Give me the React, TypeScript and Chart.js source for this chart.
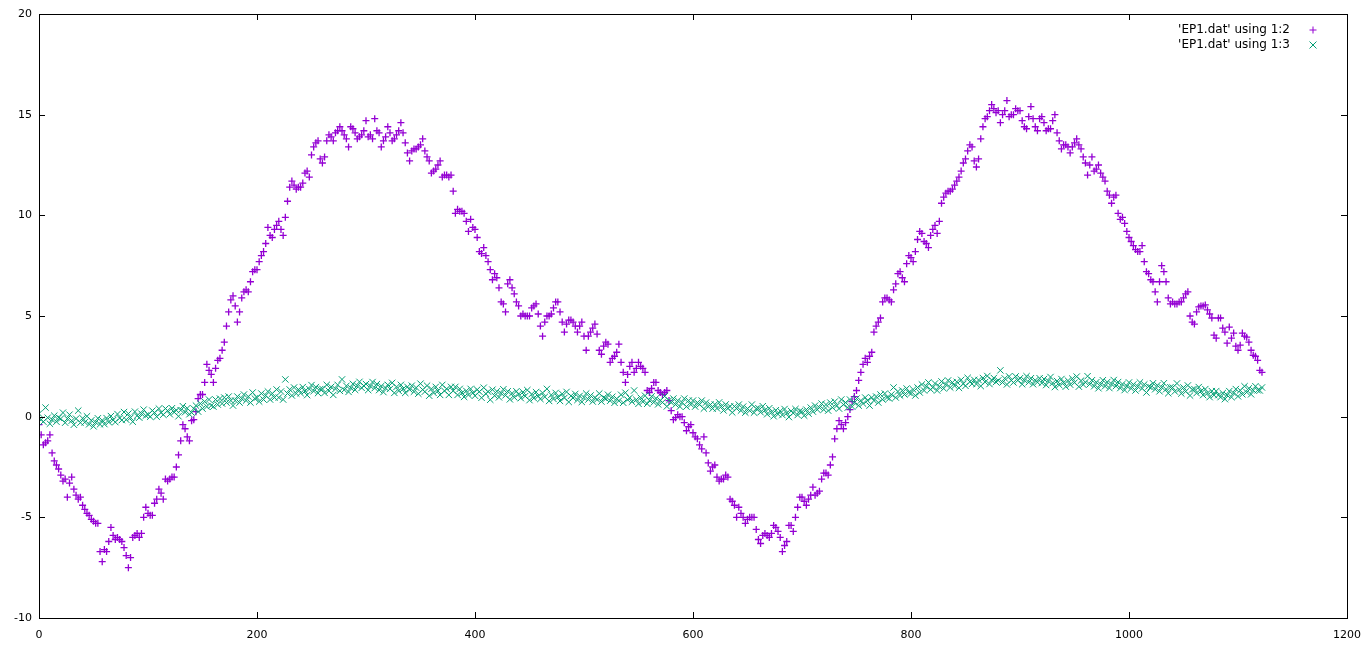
import { useEffect, useRef } from "react";
import { Chart, registerables, Plugin } from "chart.js";

Chart.register(...registerables);

// samples are taken every 2 units of x, starting at 0
const X_STEP = 2;
const X_TICKS = [0, 200, 400, 600, 800, 1000, 1200];
const Y_TICKS = [-10, -5, 0, 5, 10, 15, 20];
const LABEL_COL2 = "'EP1.dat' using 1:2";
const LABEL_COL3 = "'EP1.dat' using 1:3";

// column 2 of EP1.dat
const COL2 = [
  -0.4, -0.9, -1.4, -1.3, -1.2, -0.9, -1.8, -2.2, -2.4, -2.6,
  -2.9, -3.2, -3.1, -4.0, -3.3, -3.0, -3.6, -3.9, -4.1, -4.0,
  -4.4, -4.6, -4.8, -4.9, -5.1, -5.2, -5.3, -5.3, -6.7, -7.2,
  -6.6, -6.7, -6.2, -5.5, -5.9, -6.1, -6.0, -6.1, -6.2, -6.5,
  -6.9, -7.5, -7.0, -6.0, -5.9, -5.8, -6.0, -5.8, -5.0, -4.5,
  -4.8, -4.9, -4.9, -4.3, -4.1, -3.6, -3.8, -4.1, -3.1, -3.2,
  -3.1, -3.0, -3.0, -2.5, -1.9, -1.2, -0.4, -0.6, -1.0, -1.2,
  -0.2, -0.15, 0.25, 0.9, 1.1, 1.1, 1.7, 2.6, 2.3, 2.1,
  1.7, 2.4, 2.8, 2.9, 3.3, 3.7, 4.5, 5.2, 5.8, 6.0,
  5.5, 4.7, 5.2, 5.9, 6.2, 6.3, 6.2, 6.7, 7.2, 7.3,
  7.3, 7.7, 8.0, 8.2, 8.6, 9.4, 9.0, 8.9, 9.3, 9.5,
  9.7, 9.3, 9.0, 9.9, 10.7, 11.4, 11.7, 11.5, 11.3, 11.4,
  11.4, 11.6, 12.1, 12.2, 11.9, 13.0, 13.4, 13.6, 13.7, 12.8,
  12.6, 12.9, 13.7, 14.0, 13.9, 13.7, 14.1, 14.2, 14.4, 14.2,
  14.0, 13.8, 13.4, 14.4, 14.3, 14.1, 13.8, 13.9, 14.0, 14.2,
  14.7, 13.9, 14.0, 13.8, 14.8, 14.2, 14.1, 13.4, 13.7, 13.9,
  14.4, 14.1, 13.7, 13.8, 14.0, 14.2, 14.6, 14.1, 13.6, 13.1,
  12.7, 13.2, 13.3, 13.3, 13.4, 13.5, 13.8, 13.2, 12.9, 12.7,
  12.1, 12.2, 12.3, 12.5, 12.7, 11.9, 12.0, 12.0, 11.9, 12.0,
  11.2, 10.1, 10.3, 10.2, 10.2, 10.1, 9.7, 9.2, 9.8, 9.4,
  9.3, 8.9, 8.2, 8.1, 8.4, 8.0, 7.7, 7.3, 6.8, 7.1,
  6.9, 6.4, 5.7, 5.6, 5.2, 6.6, 6.8, 6.4, 6.1, 5.7,
  5.5, 5.0, 5.1, 5.0, 5.0, 5.0, 5.4, 5.5, 5.6, 5.1,
  4.5, 4.0, 4.7, 5.0, 5.0, 5.1, 5.4, 5.7, 5.7, 5.2,
  4.7, 4.2, 4.6, 4.8, 4.8, 4.7, 4.5, 4.2, 4.5, 4.7,
  4.0, 3.3, 4.0, 4.2, 4.4, 4.6, 4.1, 3.3, 3.1, 3.5,
  3.7, 3.6, 2.7, 2.9, 3.0, 3.2, 3.6, 2.7, 2.2, 1.7,
  2.1, 2.5, 2.7, 2.2, 2.4, 2.7, 2.5, 2.4, 2.2, 1.3,
  1.2, 1.4, 1.7, 1.7, 1.3, 1.2, 1.1, 1.2, 1.3, 0.8,
  0.3, -0.15, -0.05, 0.1, 0.0, 0.0, -0.3, -0.7, -0.5, -0.4,
  -0.8, -1.0, -1.1, -1.4, -1.6, -1.0, -1.8, -2.3, -2.7, -2.5,
  -2.4, -3.0, -3.2, -3.1, -3.1, -2.9, -3.0, -4.1, -4.2, -4.4,
  -5.0, -4.5, -4.8, -5.0, -5.3, -5.1, -5.0, -5.0, -5.0, -5.6,
  -6.1, -6.3, -5.9, -5.8, -5.9, -6.0, -5.8, -5.4, -5.5, -5.7,
  -6.0, -6.7, -6.4, -6.2, -5.4, -5.4, -5.7, -5.0, -4.5, -4.0,
  -4.0, -4.2, -4.4, -4.1, -3.9, -3.5, -3.9, -3.8, -3.7, -3.1,
  -2.8, -2.8, -2.9, -2.4, -2.0, -1.1, -0.6, -0.2, -0.4, -0.6,
  -0.3, 0.0, 0.35, 0.75, 1.0, 1.3, 1.8, 2.2, 2.6, 2.9,
  2.7, 3.0, 3.2, 4.2, 4.5, 4.7, 4.9, 5.7, 5.9, 5.9,
  5.8, 5.7, 6.3, 6.6, 7.1, 7.2, 6.9, 6.7, 7.6, 8.0,
  7.9, 7.7, 8.2, 8.8, 9.2, 9.1, 8.7, 8.6, 8.4, 9.0,
  9.3, 9.5, 9.1, 9.7, 10.6, 10.9, 11.1, 11.2, 11.2, 11.3,
  11.5, 11.7, 11.9, 12.2, 12.6, 12.8, 13.2, 13.5, 13.4, 12.7,
  12.4, 12.8, 13.8, 14.4, 14.8, 14.9, 15.2, 15.5, 15.3, 15.1,
  15.2, 14.6, 15.0, 15.2, 15.7, 14.9, 15.0, 15.0, 15.3, 15.2,
  15.2, 14.7, 14.4, 14.3, 14.9, 15.4, 14.8, 14.4, 14.2, 14.8,
  14.9, 14.6, 14.2, 14.3, 14.3, 14.7, 15.0, 14.1, 13.7, 13.3,
  13.5, 13.5, 13.4, 13.1, 13.4, 13.6, 13.8, 13.5, 13.3, 12.9,
  12.6, 12.0, 12.5, 12.9, 12.2, 12.3, 12.5, 12.1, 11.9, 11.7,
  11.2, 11.0, 10.6, 10.9, 11.0, 10.1, 9.8, 9.9, 9.6, 9.2,
  8.9, 8.7, 8.5, 8.3, 8.2, 8.2, 8.5, 7.7, 7.2, 7.1,
  6.8, 6.7, 6.2, 5.7, 6.7, 7.5, 7.2, 6.7, 5.9, 5.6,
  5.7, 5.6, 5.6, 5.7, 5.7, 5.9, 6.1, 6.2, 5.0, 4.7,
  4.6, 5.2, 5.45, 5.5, 5.5, 5.55, 5.3, 5.1, 4.9, 4.05,
  3.9, 4.9, 4.9, 4.4, 4.2, 3.65, 4.45, 3.9, 4.15, 3.5,
  3.3, 3.55, 4.15, 4.0, 3.95, 3.7, 3.3, 3.05, 3.0, 2.8,
  2.3, 2.2,
];

// column 3 of EP1.dat
const COL3 = [
  0.15, -0.15, -0.25, 0.45, -0.05, -0.35, -0.15, 0.05, -0.25, -0.05,
  -0.1, 0.2, -0.3, -0.1, 0.1, -0.2, -0.4, -0.1, 0.3, -0.3,
  -0.08, -0.28, 0.02, -0.38, -0.18, -0.48, -0.28, -0.08, -0.38, -0.18,
  -0.37, -0.07, -0.27, 0.03, -0.17, -0.27, 0.13, -0.07, -0.17, 0.23,
  -0.15, 0.15, -0.05, -0.25, 0.25, 0.05, -0.05, 0.15, 0.35, 0.05,
  0.1, 0.0, 0.3, 0.2, 0.0, 0.4, 0.2, 0.1, 0.4, 0.3,
  0.12, 0.42, 0.22, 0.32, 0.02, 0.32, 0.52, 0.22, 0.42, 0.12,
  0.2, 0.4, 0.55, 0.25, 0.65, 0.4, 0.75, 0.5, 0.85, 0.55,
  0.5, 0.85, 0.6, 0.9, 0.65, 0.95, 0.7, 1.0, 0.8, 0.55,
  0.8, 1.0, 0.7, 0.9, 1.1, 0.8, 1.0, 0.7, 1.2, 0.9,
  0.95, 0.75, 1.15, 0.85, 1.05, 1.25, 0.85, 1.15, 0.95, 1.35,
  0.95, 1.25, 0.85, 1.85, 1.15, 1.35, 1.05, 1.45, 1.15, 1.35,
  1.17, 1.47, 1.27, 1.07, 1.37, 1.57, 1.27, 1.47, 1.17, 1.37,
  1.38, 1.18, 1.58, 1.28, 1.48, 1.08, 1.38, 1.58, 1.28, 1.85,
  1.33, 1.53, 1.23, 1.43, 1.63, 1.33, 1.53, 1.73, 1.43, 1.53,
  1.62, 1.32, 1.52, 1.72, 1.42, 1.62, 1.32, 1.52, 1.22, 1.42,
  1.58, 1.38, 1.68, 1.18, 1.48, 1.28, 1.58, 1.38, 1.18, 1.48,
  1.34, 1.54, 1.24, 1.44, 1.14, 1.64, 1.34, 1.24, 1.54, 1.04,
  1.38, 1.18, 1.48, 1.28, 1.08, 1.58, 1.28, 1.38, 1.08, 1.48,
  1.28, 1.48, 1.08, 1.38, 1.18, 0.98, 1.28, 1.08, 1.38, 1.18,
  1.04, 1.34, 1.24, 0.94, 1.44, 1.14, 1.24, 0.84, 1.34, 1.04,
  1.26, 0.96, 1.16, 1.36, 1.06, 1.26, 0.86, 1.16, 0.96, 1.26,
  1.12, 0.92, 1.22, 1.02, 1.32, 0.82, 1.12, 0.92, 1.22, 1.02,
  0.88, 1.18, 0.98, 1.38, 0.78, 1.08, 0.88, 1.18, 0.98, 0.78,
  1.13, 0.93, 1.23, 0.73, 1.03, 0.93, 1.13, 0.83, 1.03, 0.73,
  0.95, 1.15, 0.85, 1.05, 0.75, 0.95, 0.85, 1.15, 0.75, 0.95,
  0.89, 1.09, 0.79, 0.99, 0.69, 0.89, 0.79, 1.09, 0.69, 1.19,
  0.84, 0.94, 0.74, 1.3, 0.84, 0.64, 0.94, 0.74, 1.04, 0.64,
  0.81, 1.01, 0.71, 0.91, 0.61, 0.81, 0.71, 1.01, 0.51, 0.81,
  0.7, 0.9, 0.6, 0.8, 0.5, 0.7, 0.9, 0.5, 0.8, 0.6,
  0.8, 0.5, 0.7, 0.6, 0.8, 0.4, 0.7, 0.5, 0.6, 0.4,
  0.61, 0.41, 0.71, 0.51, 0.31, 0.61, 0.41, 0.51, 0.21, 0.51,
  0.4, 0.6, 0.3, 0.5, 0.2, 0.4, 0.3, 0.6, 0.2, 0.4,
  0.42, 0.22, 0.52, 0.32, 0.12, 0.42, 0.22, 0.02, 0.32, 0.12,
  0.28, 0.08, 0.38, 0.18, -0.02, 0.28, 0.18, 0.38, 0.08, 0.28,
  0.25, 0.05, 0.35, 0.15, 0.45, 0.25, 0.55, 0.35, 0.45, 0.65,
  0.35, 0.6, 0.3, 0.7, 0.45, 0.75, 0.55, 0.4, 0.85, 0.6,
  0.7, 0.45, 0.85, 0.5, 0.7, 0.9, 0.55, 0.8, 0.65, 0.95,
  0.8, 0.55, 0.95, 0.8, 1.0, 0.7, 1.1, 0.85, 1.15, 0.95,
  0.9, 1.1, 1.45, 0.95, 1.25, 1.05, 1.3, 1.1, 1.4, 1.2,
  1.15, 1.35, 1.05, 1.45, 1.2, 1.6, 1.3, 1.5, 1.7, 1.35,
  1.45, 1.65, 1.3, 1.5, 1.75, 1.4, 1.6, 1.8, 1.45, 1.7,
  1.53, 1.73, 1.43, 1.83, 1.63, 1.53, 1.93, 1.73, 1.63, 1.83,
  1.62, 1.82, 1.52, 1.92, 1.72, 2.02, 1.62, 1.82, 1.92, 1.72,
  1.8, 2.3, 1.7, 1.9, 1.6, 2.0, 1.8, 1.7, 2.0, 1.8,
  1.91, 1.61, 1.81, 2.01, 1.71, 1.91, 1.61, 1.81, 1.71, 1.91,
  1.67, 1.87, 1.57, 1.77, 1.97, 1.67, 1.47, 1.77, 1.57, 1.87,
  1.69, 1.49, 1.79, 1.59, 1.89, 1.69, 1.99, 1.49, 1.79, 1.59,
  1.71, 2.01, 1.61, 1.81, 1.51, 1.71, 1.41, 1.61, 1.81, 1.51,
  1.72, 1.42, 1.62, 1.82, 1.52, 1.72, 1.42, 1.62, 1.32, 1.52,
  1.7, 1.4, 1.6, 1.3, 1.5, 1.7, 1.4, 1.6, 1.2, 1.5,
  1.46, 1.66, 1.36, 1.56, 1.26, 1.46, 1.66, 1.36, 1.16, 1.46,
  1.45, 1.25, 1.65, 1.35, 1.15, 1.45, 1.25, 1.55, 1.05, 1.35,
  1.37, 1.17, 1.47, 1.27, 1.07, 1.37, 1.17, 0.97, 1.27, 1.07,
  1.27, 1.07, 0.97, 1.17, 0.87, 1.07, 1.27, 0.97, 1.17, 1.37,
  1.01, 1.31, 1.11, 1.51, 1.21, 1.41, 1.11, 1.31, 1.51, 1.31,
  1.3, 1.45,
];

const PURPLE = "#9400d3";
const GREEN = "#009e73";
const FONT = { family: "'DejaVu Sans', sans-serif", size: 11 };

const toPoints = (ys: number[]) => ys.map((y, i) => ({ x: i * X_STEP, y }));

// gnuplot-ish frame: full border, inward ticks mirrored on all four sides,
// key in the top right corner with the sample on the right of the text
const frame: Plugin = {
  id: "frame",
  afterDraw(chart) {
    const { ctx, chartArea: a, scales } = chart;
    const len = 6;
    ctx.save();
    ctx.strokeStyle = "#000";
    ctx.lineWidth = 1;
    ctx.beginPath();
    for (const v of X_TICKS) {
      const px = Math.round(scales.x.getPixelForValue(v)) + 0.5;
      ctx.moveTo(px, a.bottom); ctx.lineTo(px, a.bottom - len);
      ctx.moveTo(px, a.top); ctx.lineTo(px, a.top + len);
    }
    for (const v of Y_TICKS) {
      const py = Math.round(scales.y.getPixelForValue(v)) + 0.5;
      ctx.moveTo(a.left, py); ctx.lineTo(a.left + len, py);
      ctx.moveTo(a.right, py); ctx.lineTo(a.right - len, py);
    }
    ctx.stroke();
    ctx.strokeRect(Math.round(a.left) + 0.5, Math.round(a.top) + 0.5,
      Math.round(a.right - a.left), Math.round(a.bottom - a.top));

    ctx.font = `${FONT.size + 1}px ${FONT.family}`;
    ctx.fillStyle = "#000";
    ctx.textAlign = "right";
    ctx.textBaseline = "middle";
    const rows = [
      { label: LABEL_COL2, color: PURPLE, style: "cross" },
      { label: LABEL_COL3, color: GREEN, style: "crossRot" },
    ];
    rows.forEach((r, i) => {
      const y = a.top + 16 + i * 15;
      ctx.fillText(r.label, a.right - 57, y);
      ctx.strokeStyle = r.color;
      ctx.beginPath();
      const cx = a.right - 34;
      if (r.style === "cross") {
        ctx.moveTo(cx - 3.5, y); ctx.lineTo(cx + 3.5, y);
        ctx.moveTo(cx, y - 3.5); ctx.lineTo(cx, y + 3.5);
      } else {
        ctx.moveTo(cx - 3.5, y - 3.5); ctx.lineTo(cx + 3.5, y + 3.5);
        ctx.moveTo(cx + 3.5, y - 3.5); ctx.lineTo(cx - 3.5, y + 3.5);
      }
      ctx.stroke();
    });
    ctx.restore();
  },
};

export default function App() {
  const canvasRef = useRef<HTMLCanvasElement>(null);

  useEffect(() => {
    document.body.style.margin = "0";
    if (!canvasRef.current) return;

    const chart = new Chart(canvasRef.current, {
      type: "scatter",
      data: {
        datasets: [
          {
            label: LABEL_COL2,
            data: toPoints(COL2),
            pointStyle: "cross",
            pointRadius: 3.5,
            borderColor: PURPLE,
            backgroundColor: PURPLE,
            borderWidth: 1.3,
            order: 2,
          },
          {
            label: LABEL_COL3,
            data: toPoints(COL3),
            pointStyle: "crossRot",
            pointRadius: 4.5,
            borderColor: GREEN,
            backgroundColor: GREEN,
            borderWidth: 1,
            order: 1,
          },
        ],
      },
      options: {
        animation: false,
        responsive: false,
        devicePixelRatio: 1,
        layout: { padding: { top: 14, right: 19, left: 0, bottom: 0 } },
        plugins: { legend: { display: false }, tooltip: { enabled: false } },
        scales: {
          x: {
            type: "linear",
            min: 0,
            max: 1200,
            afterBuildTicks: (s) => { s.ticks = X_TICKS.map((value) => ({ value })); },
            afterFit: (s) => { s.height = 32; s.paddingLeft = 0; s.paddingRight = 0; },
            grid: { display: false, drawTicks: false },
            border: { display: false },
            ticks: { color: "#000", font: FONT, padding: 11, maxRotation: 0, callback: (v) => String(v) },
          },
          y: {
            type: "linear",
            min: -10,
            max: 20,
            afterBuildTicks: (s) => { s.ticks = Y_TICKS.map((value) => ({ value })); },
            afterFit: (s) => { s.width = 39; s.paddingTop = 0; s.paddingBottom = 0; },
            grid: { display: false, drawTicks: false },
            border: { display: false },
            ticks: { color: "#000", font: FONT, padding: 7, callback: (v) => String(v) },
          },
        },
      },
      plugins: [frame],
    });

    return () => chart.destroy();
  }, []);

  return <canvas ref={canvasRef} width={1366} height={650} style={{ display: "block" }} />;
}
